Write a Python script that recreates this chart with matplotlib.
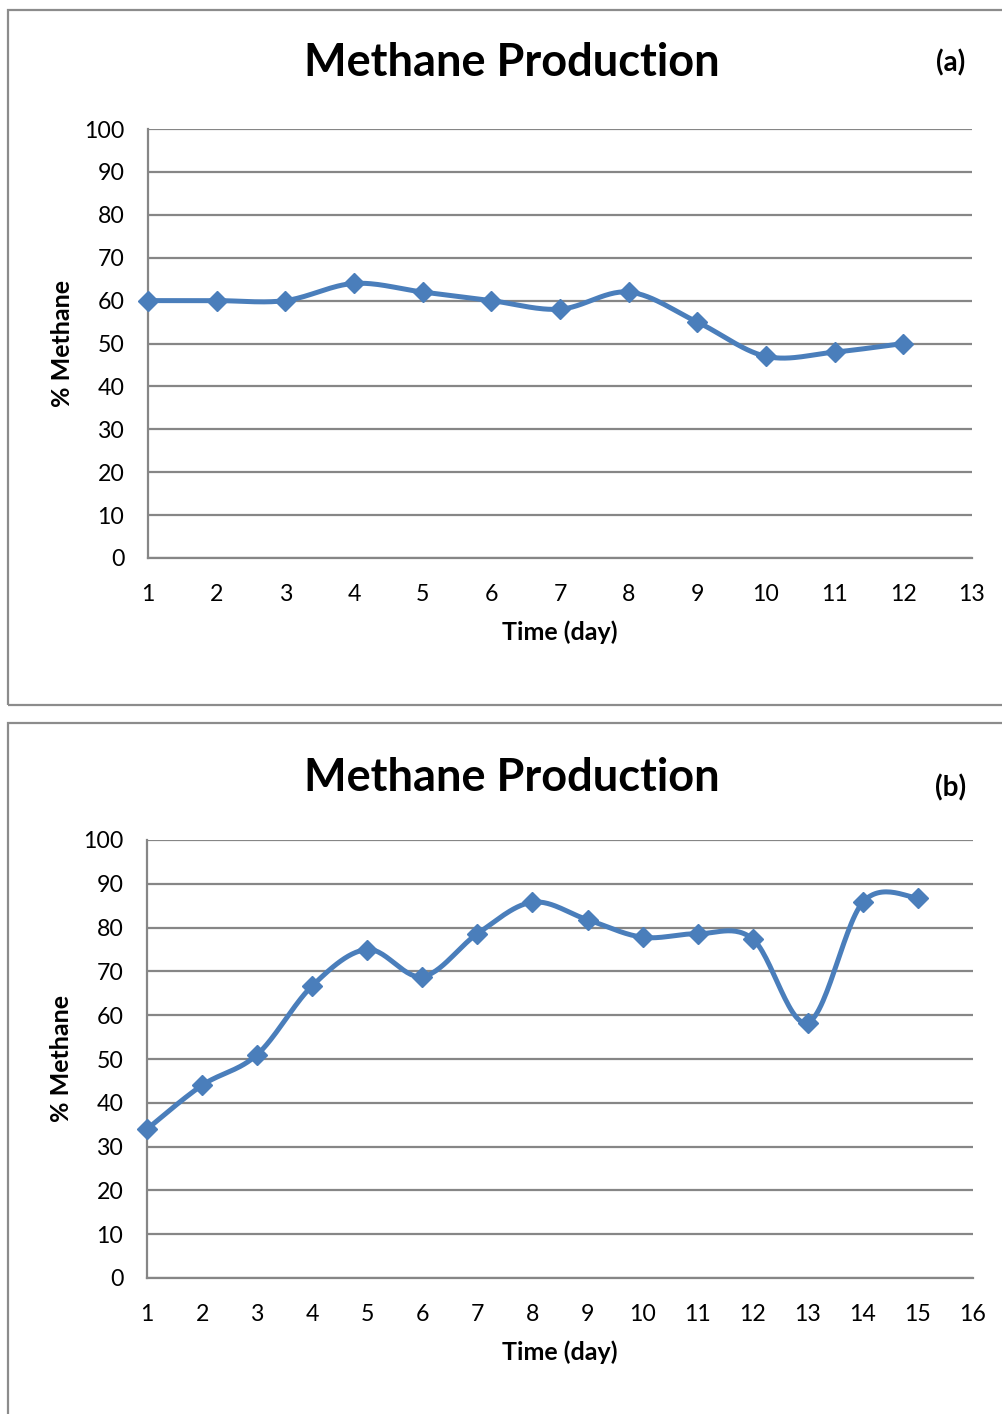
import matplotlib.pyplot as plt
import numpy as np
from matplotlib.patches import Rectangle

# Daily methane content of the biogas, two digester runs
days_a = [1, 2, 3, 4, 5, 6, 7, 8, 9, 10, 11, 12]
methane_a = [60, 60, 60, 64, 62, 60, 58, 62, 55, 47, 48, 50]

days_b = [1, 2, 3, 4, 5, 6, 7, 8, 9, 10, 11, 12, 13, 14, 15]
methane_b = [34, 44, 51, 66.7, 75, 68.8, 78.6, 85.8, 81.8, 77.8, 78.6, 77.4, 58.3, 85.8, 86.8]

yticks = [0, 10, 20, 30, 40, 50, 60, 70, 80, 90, 100]

LINE = "#4a7ebb"
GRID = "#868686"
FONT = "Lato"

W, H = 1003, 1414


def smooth(x, y, n=30):
    """Catmull-Rom style smoothed line through the points (spreadsheet look)."""
    x = np.asarray(x, float)
    y = np.asarray(y, float)
    px = np.concatenate([[x[0]], x, [x[-1]]])
    py = np.concatenate([[y[0]], y, [y[-1]]])
    xs, ys = [], []
    t = np.linspace(0, 1, n)
    for i in range(1, len(px) - 2):
        p0 = np.array([px[i], py[i]])
        p3 = np.array([px[i + 1], py[i + 1]])
        c1 = p0 + (np.array([px[i + 1], py[i + 1]]) - np.array([px[i - 1], py[i - 1]])) / 6
        c2 = p3 - (np.array([px[i + 2], py[i + 2]]) - np.array([px[i], py[i]])) / 6
        b = ((1 - t) ** 3)[:, None] * p0 + (3 * (1 - t) ** 2 * t)[:, None] * c1 \
            + (3 * (1 - t) * t ** 2)[:, None] * c2 + (t ** 3)[:, None] * p3
        xs.extend(b[:, 0])
        ys.extend(b[:, 1])
    return xs, ys


def panel(fig, box, rect, days, values, xmax, tag, title_y, tag_y):
    # outer frame around the panel
    x0, y0, x1, y1 = box
    fig.patches.append(Rectangle((x0 / W, 1 - y1 / H), (x1 - x0) / W, (y1 - y0) / H,
                                 transform=fig.transFigure, fill=False,
                                 edgecolor="#8c8c8c", linewidth=1.6))

    l, t, r, b = rect
    ax = fig.add_axes([l / W, 1 - b / H, (r - l) / W, (b - t) / H])
    ax.set_xlim(1, xmax)
    ax.set_ylim(0, 100)
    ax.set_yticks(yticks)
    ax.set_xticks(range(1, xmax + 1))
    ax.grid(axis="y", color=GRID, linewidth=1.6)
    ax.set_axisbelow(True)
    for side in ("top", "right"):
        ax.spines[side].set_visible(False)
    for side in ("left", "bottom"):
        ax.spines[side].set_color(GRID)
        ax.spines[side].set_linewidth(1.6)
    ax.tick_params(length=0, labelsize=16.7)
    ax.tick_params(axis="y", pad=17)
    ax.tick_params(axis="x", pad=19)
    for lab in ax.get_xticklabels() + ax.get_yticklabels():
        lab.set_fontfamily(FONT)

    sx, sy = smooth(days, values)
    ax.plot(sx, sy, color=LINE, linewidth=3.6, solid_capstyle="round", clip_on=False)
    ax.plot(days, values, linestyle="none", marker="D", markersize=10.5,
            color=LINE, clip_on=False, zorder=3)

    ax.set_xlabel("Time (day)", fontsize=18, fontweight="bold", fontfamily=FONT, labelpad=11)
    ax.set_ylabel("% Methane", fontsize=18, fontweight="bold", fontfamily=FONT, labelpad=7)

    fig.text(512 / W, 1 - title_y / H, "Methane Production", ha="center", va="center",
             fontsize=32.5, fontweight="bold", fontfamily=FONT)
    fig.text(951 / W, 1 - tag_y / H, tag, ha="center", va="center",
             fontsize=20, fontweight="bold", fontfamily=FONT)
    return ax


fig = plt.figure(figsize=(W / 100, H / 100), dpi=100)
fig.patch.set_facecolor("white")

panel(fig, (8, 10, 1010, 705), (148, 129, 972, 558), days_a, methane_a, 13, "(a)", 63, 63)
panel(fig, (8, 723, 1010, 1430), (147, 840, 973, 1278), days_b, methane_b, 16, "(b)", 778, 788)

fig.savefig("out.png", dpi=100, facecolor="white")
